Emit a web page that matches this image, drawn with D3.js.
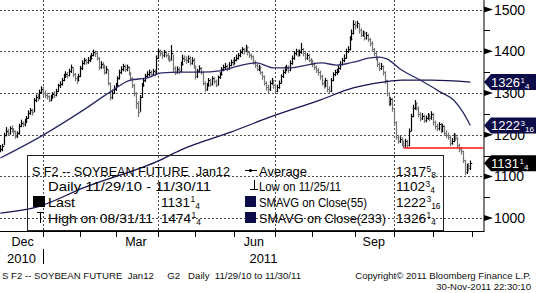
<!DOCTYPE html>
<html><head><meta charset="utf-8">
<script src="https://cdn.jsdelivr.net/npm/d3@7"></script>
<style>
body{margin:0;background:#fff;}
svg{display:block;font-family:"Liberation Sans",Arial,sans-serif;}
text{white-space:pre;}
</style>
</head><body>
<svg id="c" width="536" height="293"></svg>
<script>
// ---------- DATA ----------
const startDate = "2010-11-29";
const holidays = ["2010-12-24","2010-12-31","2011-01-17","2011-02-21","2011-04-22","2011-05-30","2011-07-04","2011-09-05","2011-11-24"];

const closes = [
1165,1172,
1200,1210,1205,1215,1212,1208,1198,1203,1222,1228,1225,1232,1240,1252,1258,1255,1282,1290,1288,1302,1310,
1300,1295,1292,1283,1290,1298,1295,1305,1318,1322,1330,1340,1345,1342,1352,1362,1345,1335,1330,1340,
1360,1372,1378,1375,1380,1383,1392,1398,1395,1385,1362,1370,1365,1350,1358,1325,1290,1300,1310,
1318,1335,1350,1358,1365,1358,1362,1348,1335,1320,1300,1275,1255,1290,1318,1330,1340,1345,1350,1345,1352,1348,1385,
1400,1395,1390,1398,1392,1385,1380,1395,1360,1350,1358,1352,1370,1385,1382,1378,1385,1372,1380,1365,
1340,1352,1360,1350,1325,1310,1318,1330,1322,1335,1328,1320,1338,1345,1358,1362,1365,1360,1368,1375,1372,
1380,1385,1390,1398,1405,1400,1410,1398,1390,1388,1375,1368,1358,1362,1350,1340,1325,1315,1310,1325,1330,1318,
1305,1315,1325,1340,1350,1358,1362,1355,1372,1385,1395,1400,1392,1398,1405,1395,1385,1390,1380,1375,
1370,1362,1355,1350,1340,1325,1318,1330,1310,1305,1330,1345,1350,1352,1360,1370,1378,1385,1400,1405,1430,1445,1465,
1462,1468,1450,1440,1445,1432,1440,1430,1420,1405,1395,1385,1370,1360,1365,1350,1330,1300,1275,1285,1265,
1230,1195,1185,1190,1180,1175,1185,1175,1210,1245,1265,1275,1265,1250,1240,1245,1235,1240,1245,1240,1250,
1230,1220,1215,1225,1210,1220,1205,1200,1195,1180,1185,1198,1192,1175,1165,1160,1140,1110,1125,1120,1131.25
];
const highs = [
1175,1178,
1205,1218,1214,1220,1222,1216,1210,1208,1226,1236,1232,1238,1245,1258,1264,1262,1288,1296,1298,1308,1316,
1315,1306,1300,1294,1296,1302,1304,1310,1322,1328,1336,1346,1352,1350,1358,1368,1360,1348,1340,1346,
1365,1378,1384,1382,1386,1390,1396,1404,1402,1398,1386,1376,1374,1368,1364,1356,1325,1308,1318,
1324,1340,1356,1364,1370,1368,1368,1364,1350,1338,1322,1302,1280,1295,1324,1336,1346,1352,1356,1354,1358,1356,1390,
1406,1404,1400,1403,1400,1396,1390,1415,1392,1364,1364,1362,1375,1392,1390,1388,1390,1388,1386,1384,
1366,1358,1366,1362,1352,1328,1324,1336,1334,1340,1338,1332,1342,1350,1362,1368,1372,1368,1374,1380,1380,
1386,1392,1396,1404,1410,1408,1416,1412,1400,1395,1390,1378,1370,1368,1364,1352,1342,1328,1320,1330,1336,1332,
1322,1320,1330,1345,1356,1364,1368,1366,1378,1390,1400,1406,1404,1404,1420,1408,1398,1396,1394,1384,
1380,1374,1366,1360,1354,1344,1330,1336,1332,1316,1336,1350,1356,1358,1366,1376,1384,1392,1406,1412,1436,1452,1474.25,
1472,1473,1466,1455,1450,1448,1446,1442,1432,1424,1408,1398,1388,1374,1372,1366,1352,1332,1302,1290,1288,
1262,1232,1200,1196,1194,1186,1190,1188,1215,1250,1272,1283,1278,1268,1254,1252,1248,1246,1252,1250,1256,
1252,1234,1226,1230,1228,1226,1222,1210,1205,1198,1192,1204,1202,1195,1178,1170,1162,1140,1130,1132,1138
];
const lows = [
1158,1160,
1175,1196,1198,1200,1205,1200,1190,1192,1200,1218,1218,1220,1228,1238,1248,1246,1254,1278,1280,1285,1298,
1292,1288,1284,1278,1280,1286,1288,1292,1302,1312,1318,1328,1336,1335,1340,1348,1338,1328,1322,1328,
1338,1355,1368,1368,1370,1374,1380,1388,1386,1378,1355,1358,1358,1344,1346,1318,1282,1285,1298,
1305,1315,1332,1345,1352,1350,1352,1342,1328,1312,1292,1262,1242,1255,1288,1315,1326,1336,1340,1338,1342,1340,1345,
1382,1388,1382,1386,1385,1378,1374,1378,1350,1343,1346,1345,1350,1366,1374,1370,1372,1366,1368,1358,
1332,1336,1348,1344,1318,1302,1305,1315,1315,1318,1322,1314,1318,1334,1342,1352,1356,1352,1356,1364,1365,
1368,1376,1380,1386,1394,1392,1398,1390,1384,1380,1368,1360,1352,1352,1344,1332,1318,1306,1300,1305,1320,1310,
1300,1302,1310,1322,1336,1346,1352,1348,1352,1368,1380,1390,1386,1388,1394,1388,1378,1380,1374,1368,
1362,1355,1348,1342,1332,1318,1310,1314,1302,1298,1302,1328,1340,1344,1348,1356,1366,1374,1382,1396,1402,1426,1440,
1452,1455,1442,1434,1435,1426,1428,1422,1412,1398,1388,1378,1362,1352,1355,1342,1322,1292,1268,1270,1255,
1222,1188,1178,1180,1172,1168,1170,1168,1172,1208,1242,1260,1258,1242,1232,1235,1228,1230,1236,1232,1236,
1222,1212,1208,1210,1204,1206,1198,1192,1188,1172,1176,1182,1185,1168,1158,1152,1132,1102.75,1106,1112,1115
];

// moving averages: [trading-day index, value]
const sma55 = [[0,1144],[23,1199],[44,1257],[59,1302],[70,1331],[79,1336],[87,1348],[97,1350],[108,1350],[118,1353],[130,1367],[138,1372],[147,1360],[155,1360],[165,1367],[173,1372],[181,1367],[190,1374],[199,1384],[204,1386],[208,1382],[216,1355],[226,1331],[237,1302],[244,1283],[249,1254],[253,1222.1875]];
const sma233 = [[0,1012],[20,1027],[45,1073],[86,1139],[97,1163],[124,1206],[145,1242],[172,1283],[190,1312],[206,1326],[216,1331],[232,1331],[253,1326.25]];

const yTicks = [1000,1100,1200,1300,1400,1500];
const yMinor = [1050,1150,1250,1350,1450];
const monthNames = ["Jan","Feb","Mar","Apr","May","Jun","Jul","Aug","Sep","Oct","Nov","Dec"];
const labelMonths = [11,2,5,8];
const supportLevel = 1168, supportStart = 217;

const titleText = "S F2 -- SOYBEAN FUTURE  Jan12";
const rangeText = "Daily 11/29/10 - 11/30/11";
const leftLabels = ["Last","High on 08/31/11"];
const leftValues = [1131.25, 1474.25];
const rightLabels = ["Average","Low on 11/25/11","SMAVG on Close(55)","SMAVG on Close(233)"];
const rightValues = [1317.625, 1102.75, 1222.1875, 1326.25];
const tagValues = [1326.25, 1222.1875, 1131.25];
const tagColors = ["#0c0c48","#0c0c48","#000000"];
const footerLeft = "S F2 -- SOYBEAN FUTURE  Jan12     G2   Daily  11/29/10 to 11/30/11";
const footerRight1 = "Copyright\u00A9 2011 Bloomberg Finance L.P.";
const footerRight2 = "30-Nov-2011 22:30:10";

// ---------- CHART ----------
const svg = d3.select("#c");
const PR = 483.7, PB = 231;
const x = d3.scaleLinear().domain([-0.2, 260.2]).range([0, PR]);
const y = d3.scaleLinear().domain([969, 1523]).range([PB, 0]);
const cx = v => Math.round(x(v)) + 0.5;
const cy = v => Math.round(y(v)) + 0.5;

// trading dates
const fmt = d3.timeFormat("%Y-%m-%d");
const hol = new Set(holidays);
const dates = [];
{ let d = new Date(startDate + "T12:00:00");
  while (dates.length < closes.length + 8) {
    const w = d.getDay();
    if (w > 0 && w < 6 && !hol.has(fmt(d))) dates.push(new Date(d));
    d.setDate(d.getDate() + 1);
  } }
const monthStarts = [];
for (let i = 1; i < dates.length; i++) if (dates[i].getMonth() !== dates[i-1].getMonth()) monthStarts.push(i);

svg.append("defs").append("clipPath").attr("id","pc").append("rect")
  .attr("x",0).attr("y",0).attr("width",PR).attr("height",PB);

// gridlines
const grid = svg.append("g").attr("stroke","#4a4a4a").attr("stroke-width",1).attr("stroke-dasharray","2,2");
yTicks.forEach(v => grid.append("line").attr("x1",0).attr("x2",PR).attr("y1",cy(v)).attr("y2",cy(v)));
monthStarts.filter(i => [0,3,6,9].includes(dates[i].getMonth()) && i < 255).forEach(i =>
  grid.append("line").attr("x1",cx(i)).attr("x2",cx(i)).attr("y1",0).attr("y2",PB));

const plot = svg.append("g").attr("clip-path","url(#pc)");

// bars
const bars = plot.append("g").attr("stroke-width",1.2);
closes.forEach((c, i) => {
  const up = i === 0 || c >= closes[i-1];
  const col = up ? "#000" : "#747474";
  const xi = cx(i);
  bars.append("line").attr("x1",xi).attr("x2",xi).attr("y1",y(highs[i])).attr("y2",y(lows[i])).attr("stroke",col);
  bars.append("line").attr("x1",xi).attr("x2",xi+1.8).attr("y1",cy(c)).attr("y2",cy(c)).attr("stroke",col);
});

// moving averages
const line = d3.line().x(d => x(d[0])).y(d => y(d[1])).curve(d3.curveMonotoneX);
plot.append("path").attr("d",line(sma233)).attr("fill","none").attr("stroke","#141450").attr("stroke-width",1.3);
plot.append("path").attr("d",line(sma55)).attr("fill","none").attr("stroke","#2a2a66").attr("stroke-width",1.3);

// support line
plot.append("line").attr("x1",x(supportStart)).attr("x2",PR).attr("y1",y(supportLevel)).attr("y2",y(supportLevel))
  .attr("stroke","#ff1010").attr("stroke-width",1.4);

// frame: bottom and right axis
svg.append("line").attr("x1",0).attr("x2",PR+0.5).attr("y1",PB+0.5).attr("y2",PB+0.5).attr("stroke","#000");
svg.append("line").attr("x1",484).attr("x2",484).attr("y1",0).attr("y2",PB+1).attr("stroke","#000");

// right axis ticks & labels
const ax = svg.append("g");
yTicks.forEach(v => {
  const yy = y(v);
  ax.append("path").attr("d",`M484,${yy-3}L493,${yy}L484,${yy+3}Z`).attr("fill","#000");
  ax.append("text").attr("x",494).attr("y",yy+5).attr("font-size",14).attr("fill","#000").text(v);
});
yMinor.forEach(v => ax.append("line").attr("x1",484).attr("x2",490).attr("y1",cy(v)).attr("y2",cy(v)).attr("stroke","#000"));

// fraction helper
function splitFrac(v){
  const w = Math.floor(v); let n = Math.round((v - w) * 16), d = 16;
  if (n === 0) return [String(w), null, null];
  while (n % 2 === 0) { n /= 2; d /= 2; }
  return [String(w), String(n), String(d)];
}
function fracText(g, xp, yb, v, size, fill){
  const [w, n, d] = splitFrac(v);
  const t = g.append("text").attr("x",xp).attr("y",yb).attr("font-size",size).attr("fill",fill);
  t.append("tspan").text(w);
  if (n) {
    t.append("tspan").attr("font-size",size*0.62).attr("dx",0.5).attr("dy",-size*0.3).text(n);
    t.append("tspan").attr("font-size",size*0.62).attr("dy",size*0.48).text(d);
  }
  return t;
}

// value tags
tagValues.forEach((v, i) => {
  const yy = y(v);
  svg.append("path").attr("d",`M484,${yy}L491,${yy-8}L536,${yy-8}L536,${yy+8}L491,${yy+8}Z`).attr("fill",tagColors[i]);
  fracText(svg, 491, yy+4.6, v, 13, "#fff");
});

// bottom axis
const bx = svg.append("g");
monthStarts.filter(i => i > 5 && i < 258).forEach(i =>
  bx.append("line").attr("x1",cx(i)).attr("x2",cx(i)).attr("y1",PB).attr("y2",PB+6).attr("stroke","#000"));
labelMonths.forEach(m => {
  const idx = d3.range(closes.length).filter(i => dates[i].getMonth() === m);
  const mid = (idx[0] + idx[idx.length-1]) / 2;
  bx.append("text").attr("x",x(mid)).attr("y",246).attr("text-anchor","middle").attr("font-size",12.5).text(monthNames[m]);
});
const yearStart = monthStarts.find(i => dates[i].getMonth() === 0);
bx.append("line").attr("x1",cx(yearStart)).attr("x2",cx(yearStart)).attr("y1",249).attr("y2",264).attr("stroke","#000");
bx.append("text").attr("x",x(yearStart)/2).attr("y",263).attr("text-anchor","middle").attr("font-size",13).text(dates[0].getFullYear());
bx.append("text").attr("x",(x(yearStart)+PR)/2).attr("y",263).attr("text-anchor","middle").attr("font-size",13).text(dates[yearStart].getFullYear());

// legend box
const lg = svg.append("g");
lg.append("rect").attr("x",27.5).attr("y",155.5).attr("width",416).attr("height",75).attr("fill","none").attr("stroke","#222");
const rowsY = [176, 191, 206.5, 222.5];
lg.append("text").attr("x",32).attr("y",rowsY[0]).attr("font-size",13).attr("textLength",198).attr("lengthAdjust","spacingAndGlyphs").text(titleText);
lg.append("text").attr("x",48).attr("y",rowsY[1]).attr("font-size",13).attr("textLength",163).attr("lengthAdjust","spacingAndGlyphs").text(rangeText);
lg.append("rect").attr("x",33).attr("y",196).attr("width",12).attr("height",11).attr("fill","#000");
lg.append("path").attr("d","M37,212.5H44M40.5,212V223").attr("stroke","#000").attr("fill","none");
const leftLens = [27, 105];
leftLabels.forEach((t, i) => {
  lg.append("text").attr("x",48).attr("y",rowsY[i+2]).attr("font-size",13).attr("textLength",leftLens[i]).attr("lengthAdjust","spacingAndGlyphs").text(t);
  fracText(lg, 161, rowsY[i+2], leftValues[i], 13.5, "#000");
});
// right column symbols
lg.append("path").attr("d","M245,170.5H257").attr("stroke","#000");
lg.append("circle").attr("cx",250.5).attr("cy",170.5).attr("r",1.6).attr("fill","#000");
lg.append("path").attr("d","M254.5,180V189M250,189.5H258").attr("stroke","#000").attr("fill","none");
lg.append("rect").attr("x",245).attr("y",196).attr("width",11).attr("height",11).attr("fill","#0c0c48");
lg.append("rect").attr("x",245).attr("y",212).attr("width",11).attr("height",11).attr("fill","#0c0c48");
const rightLens = [48, 82, 108, 127];
rightLabels.forEach((t, i) => {
  lg.append("text").attr("x",259).attr("y",rowsY[i]).attr("font-size",13).attr("textLength",rightLens[i]).attr("lengthAdjust","spacingAndGlyphs").text(t);
  fracText(lg, 396, rowsY[i], rightValues[i], 13.5, "#000");
});

// footer
svg.append("text").attr("x",2).attr("y",279).attr("font-size",9.6).attr("fill","#111").attr("textLength",299).attr("lengthAdjust","spacingAndGlyphs").text(footerLeft);
svg.append("text").attr("x",531).attr("y",279).attr("text-anchor","end").attr("font-size",9.6).attr("fill","#111").text(footerRight1);
svg.append("text").attr("x",531).attr("y",290).attr("text-anchor","end").attr("font-size",9.6).attr("fill","#111").text(footerRight2);
</script>
</body></html>
